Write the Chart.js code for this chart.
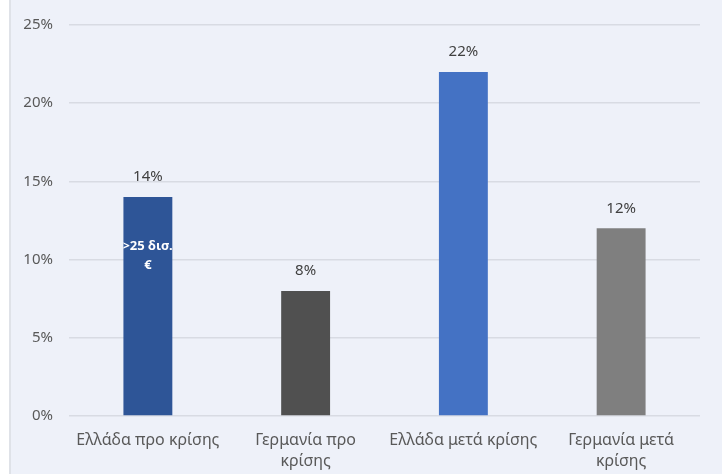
<!DOCTYPE html>
<html lang="el">
<head>
  <meta charset="UTF-8" />
  <title>Ελλάδα - Γερμανία</title>
  <script src="https://cdn.jsdelivr.net/npm/chart.js@4.4.0"></script>
  <style>
    body { margin: 0; background: #ffffff; }
    .wrap {
      position: absolute; left: 0; top: 0;
      width: 722px; height: 474px;
    }
    .strip {
      position: absolute; left: 9px; top: 0; width: 713px; height: 474px;
      background: #eef1f9; border-left: 2px solid #dfe2e8;
    }
    canvas { position: absolute; left: 0; top: 0; }
  </style>
</head>
<body>
  <div class="wrap">
    <div class="strip"></div>
    <canvas id="chart" width="722" height="474"></canvas>
  </div>
  <script>
    const categories = [
      ['Ελλάδα προ κρίσης'],
      ['Γερμανία προ', 'κρίσης'],
      ['Ελλάδα μετά κρίσης'],
      ['Γερμανία μετά', 'κρίσης']
    ];
    const values = [14, 8, 22, 12];
    const barColors = ['#2e5597', '#505050', '#4472c4', '#7f7f7f'];
    const yTicks = [0, 5, 10, 15, 20, 25];
    const innerLabel = ['>25 δισ.', '€'];   // only on the first bar

    const font = "'Noto Sans', sans-serif";

    // value labels above bars + the clipped white note inside bar 1
    const labelPlugin = {
      id: 'labels',
      afterDatasetsDraw(chart) {
        const ctx = chart.ctx;
        const meta = chart.getDatasetMeta(0);
        ctx.save();
        ctx.font = '15px ' + font;
        ctx.fillStyle = '#404040';
        ctx.textAlign = 'center';
        ctx.textBaseline = 'middle';
        meta.data.forEach((bar, i) => {
          ctx.fillText(values[i] + '%', bar.x, bar.y - 20);
        });

        const b = meta.data[0];
        ctx.beginPath();
        ctx.rect(b.x - b.width / 2, b.y, b.width, b.base - b.y);
        ctx.clip();
        ctx.fillStyle = '#ffffff';
        ctx.font = 'bold 13px ' + font;
        ctx.textAlign = 'left';
        ctx.fillText(innerLabel[0], b.x - b.width / 2 - 1, 246);
        ctx.textAlign = 'center';
        ctx.fillText(innerLabel[1], b.x, 265);
        ctx.restore();
      }
    };

    new Chart(document.getElementById('chart'), {
      type: 'bar',
      data: {
        labels: categories,
        datasets: [{
          data: values,
          backgroundColor: barColors,
          barPercentage: 0.31,
          categoryPercentage: 1
        }]
      },
      options: {
        responsive: false,
        animation: false,
        layout: { padding: { top: 21, right: 22, left: 0, bottom: 0 } },
        plugins: { legend: { display: false }, tooltip: { enabled: false } },
        scales: {
          x: {
            grid: { display: false },
            border: { display: false },
            ticks: {
              color: '#595959',
              font: { family: font, size: 16, lineHeight: 1.32 },
              padding: 6,
              maxRotation: 0, autoSkip: false
            },
            afterFit(scale) { scale.height = 58; }
          },
          y: {
            min: 0, max: 25,
            afterBuildTicks(scale) { scale.ticks = yTicks.map(v => ({ value: v })); },
            grid: { color: '#d8dbe3', lineWidth: 1.5, drawTicks: false },
            border: { display: false },
            ticks: {
              color: '#595959',
              font: { family: font, size: 15 },
              padding: 16,
              callback: v => v + '%'
            },
            afterFit(scale) { scale.width = 69; }
          }
        }
      },
      plugins: [labelPlugin]
    });
  </script>
</body>
</html>
